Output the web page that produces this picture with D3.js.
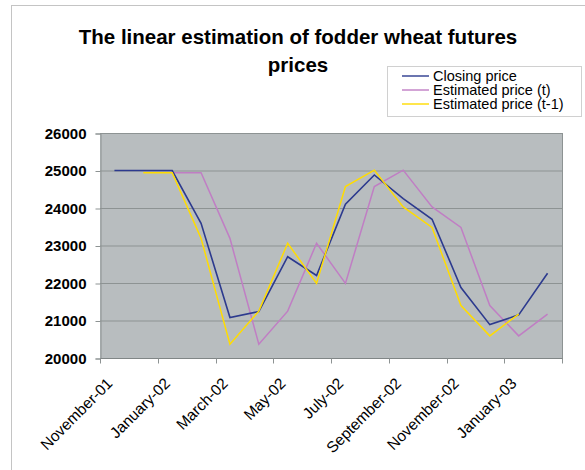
<!DOCTYPE html>
<html>
<head>
<meta charset="utf-8">
<script src="https://cdn.jsdelivr.net/npm/d3@7"></script>
<style>
  body { margin: 0; background: #fff; }
  svg { display: block; font-family: "Liberation Sans", Arial, sans-serif; }
</style>
</head>
<body>
<div id="chart"></div>
<script>
// Monthly categories (Nov 2001 - Feb 2003)
const months = ["November-01", "December-01", "January-02", "February-02", "March-02", "April-02",
  "May-02", "June-02", "July-02", "August-02", "September-02", "October-02",
  "November-02", "December-02", "January-03", "February-03"];

const closingPrice = [25000, 25000, 25000, 23590, 21080, 21240, 22700, 22200,
  24100, 24880, 24250, 23700, 21880, 20890, 21150, 22260];
const estimatedT = [null, null, 24940, 24940, 23190, 20370, 21250, 23060,
  21990, 24570, 25010, 24030, 23480, 21400, 20590, 21170];
const estimatedT1 = [null, 24940, 24940, 23190, 20370, 21250, 23060, 21990,
  24570, 25010, 24030, 23480, 21400, 20590, 21170, null];

const yTicks = [20000, 21000, 22000, 23000, 24000, 25000, 26000];

const series = [
  { name: "Closing price", values: closingPrice, color: "#2c3a8e" },
  { name: "Estimated price (t)", values: estimatedT, color: "#c07ec4" },
  { name: "Estimated price (t-1)", values: estimatedT1, color: "#ffdc00" }
];

const width = 585, height = 470;
const plot = { left: 100, right: 562, top: 133, bottom: 358 };

const svg = d3.select("#chart").append("svg")
  .attr("width", width)
  .attr("height", height);

// chart area frame
svg.append("rect")
  .attr("x", 11.5).attr("y", 5.5)
  .attr("width", 700).attr("height", 600)
  .attr("fill", "#fff")
  .attr("stroke", "#c4c4c4");

const x = d3.scaleBand().domain(months).range([plot.left, plot.right]).padding(0);
const y = d3.scaleLinear().domain([20000, 26000]).range([plot.bottom, plot.top]);
const cx = m => x(m) + x.bandwidth() / 2;

// plot background
svg.append("rect")
  .attr("x", plot.left).attr("y", plot.top)
  .attr("width", plot.right - plot.left).attr("height", plot.bottom - plot.top)
  .attr("fill", "#b8bdbf");

// gridlines
svg.append("g").selectAll("line")
  .data(yTicks.slice(1))
  .join("line")
  .attr("x1", plot.left).attr("x2", plot.right)
  .attr("y1", d => y(d) + 0.5).attr("y2", d => y(d) + 0.5)
  .attr("stroke", "#8d9393")
  .attr("stroke-width", 1);

// plot border (right side)
svg.append("line")
  .attr("x1", plot.right + 0.5).attr("x2", plot.right + 0.5)
  .attr("y1", plot.top).attr("y2", plot.bottom)
  .attr("stroke", "#8d9393");

// y axis
const yAxis = svg.append("g")
  .attr("transform", `translate(${plot.left + 0.5},0.5)`)
  .call(d3.axisLeft(y).tickValues(yTicks).tickSize(5).tickPadding(9).tickFormat(d3.format("d")));
yAxis.select(".domain").attr("stroke", "#8d9393");
yAxis.selectAll(".tick line").attr("stroke", "#8d9393");
yAxis.selectAll("text")
  .attr("fill", "#000")
  .style("font-size", "15px")
  .style("font-weight", "bold")
  .style("font-family", "'Liberation Sans', Arial, sans-serif");

// x axis: tick marks between every second category
const tickCats = months.filter((m, i) => i % 2 === 0);
const xAxis = svg.append("g").attr("transform", `translate(0,${plot.bottom + 0.5})`);
xAxis.append("line")
  .attr("x1", plot.left).attr("x2", plot.right + 1)
  .attr("stroke", "#808686");
xAxis.selectAll("line.tick")
  .data(tickCats.map(m => x(m)).concat([plot.right]))
  .join("line")
  .attr("class", "tick")
  .attr("x1", d => Math.round(d) + 0.5).attr("x2", d => Math.round(d) + 0.5)
  .attr("y1", 0).attr("y2", 5)
  .attr("stroke", "#8d9393");
xAxis.selectAll("text")
  .data(tickCats)
  .join("text")
  .attr("transform", m => `translate(${cx(m) - 1},${26}) rotate(-45)`)
  .attr("text-anchor", "end")
  .style("font-size", "15.5px")
  .attr("fill", "#000")
  .text(m => m);

// series lines
const line = d3.line()
  .defined(d => d.v != null)
  .x(d => cx(d.m))
  .y(d => y(d.v));

[series[1], series[0], series[2]].forEach(s => {
  svg.append("path")
    .datum(months.map((m, i) => ({ m: m, v: s.values[i] })))
    .attr("fill", "none")
    .attr("stroke", s.color)
    .attr("stroke-width", s.name === "Closing price" ? 1.6 : 1.5)
    .attr("d", line);
});

// title
svg.append("text")
  .attr("x", 298).attr("y", 44)
  .attr("text-anchor", "middle")
  .style("font-size", "20.5px")
  .style("font-weight", "bold")
  .text("The linear estimation of fodder wheat futures");
svg.append("text")
  .attr("x", 298).attr("y", 72)
  .attr("text-anchor", "middle")
  .style("font-size", "20.5px")
  .style("font-weight", "bold")
  .text("prices");

// legend
const legend = svg.append("g");
legend.append("rect")
  .attr("x", 387.5).attr("y", 66.5)
  .attr("width", 194).attr("height", 50)
  .attr("fill", "#fff")
  .attr("stroke", "#d0d0d0");
const rows = legend.selectAll("g.row")
  .data(series)
  .join("g")
  .attr("class", "row")
  .attr("transform", (d, i) => `translate(0,${76 + i * 14})`);
rows.append("line")
  .attr("x1", 402).attr("x2", 429)
  .attr("stroke", d => d.color)
  .attr("stroke-opacity", 0.7)
  .attr("stroke-width", 2);
rows.append("text")
  .attr("x", 433).attr("y", 5)
  .style("font-size", "14.5px")
  .text(d => d.name);
</script>
</body>
</html>
